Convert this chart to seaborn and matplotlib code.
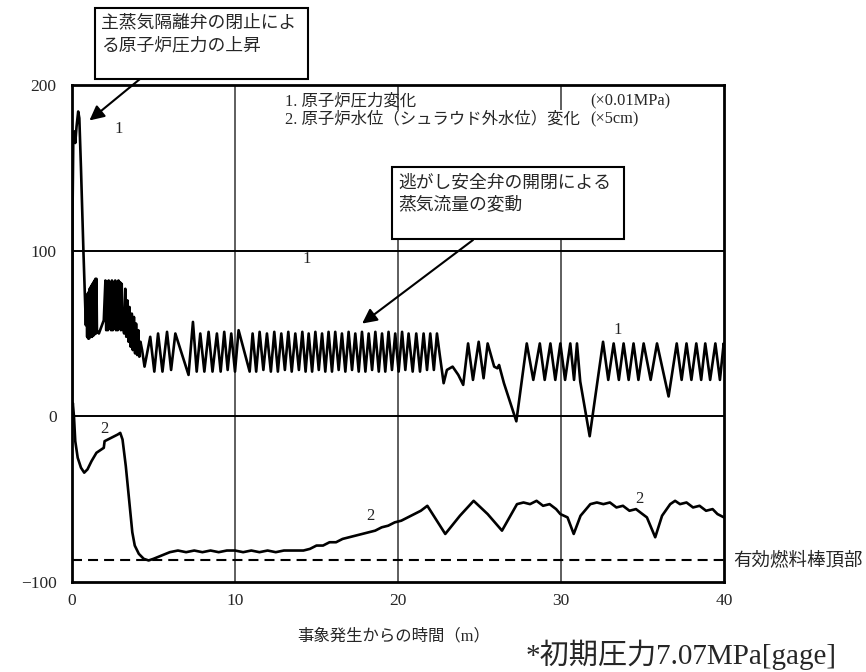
import numpy as np
import pandas as pd
import matplotlib
matplotlib.use("Agg")
import matplotlib.pyplot as plt
from matplotlib.patches import Rectangle
import seaborn as sns

# --- data ----------------------------------------------------------------
# 1. reactor pressure change (x0.01 MPa)
press_t = [0, 0.03, 0.08, 0.14, 0.2, 0.28, 0.38, 0.45, 0.55, 0.7, 0.85,
           0.9, 0.93, 0.96, 0.99, 1.02, 1.05, 1.08, 1.11, 1.14, 1.17, 1.2, 1.23,
           1.26, 1.29, 1.32, 1.35, 1.38, 1.41, 1.44, 1.47, 1.5, 1.53,
           1.65, 1.8, 1.95,
           2.05, 2.1, 2.15, 2.2, 2.25, 2.3, 2.35, 2.4, 2.45, 2.5, 2.55, 2.6,
           2.65, 2.7, 2.75, 2.8, 2.85, 2.9, 2.95, 3.0, 3.05,
           3.1, 3.2, 3.27, 3.33, 3.4, 3.47, 3.53, 3.6, 3.67, 3.73, 3.8, 3.87,
           3.93, 4.0, 4.07, 4.13, 4.2, 4.3,
           4.45, 4.8, 5.05, 5.28, 5.55, 5.83, 6.08, 6.34, 7.15, 7.42, 7.65,
           7.87, 8.12, 8.38, 8.62, 8.89, 9.12, 9.34, 9.55, 9.77, 10.0, 10.22,
           10.9, 11.08, 11.3, 11.51, 11.74, 11.96, 12.2, 12.41, 12.63, 12.84,
           13.06, 13.27, 13.48, 13.7, 13.92, 14.13, 14.33, 14.52, 14.73, 14.93,
           15.14, 15.34, 15.54, 15.74, 15.95, 16.15, 16.36, 16.56, 16.77, 16.97,
           17.18, 17.38, 17.59, 17.79, 18.0, 18.2, 18.41, 18.61, 18.82, 19.02,
           19.22, 19.42, 19.63, 19.83, 20.04, 20.25, 20.45, 20.65, 20.9, 21.12,
           21.35, 21.57, 21.78, 21.98, 22.2, 22.39,
           22.55, 22.8, 23.0, 23.35, 23.7, 24.0, 24.3, 24.6, 24.95, 25.25,
           25.5, 25.9, 26.1, 26.2, 26.5, 27.26, 27.9, 28.3, 28.7, 29.0, 29.35,
           29.65, 29.96, 30.25, 30.57, 30.8, 30.98, 31.18, 31.76, 32.58, 32.9,
           33.23, 33.55, 33.84, 34.15, 34.45, 34.75, 35.07, 35.5, 35.89, 36.6,
           37.1, 37.4, 37.7, 38.0, 38.3, 38.6, 38.85, 39.15, 39.47, 39.75,
           39.98, 40.0]
press_v = [0, 120, 168, 172, 165, 175, 184, 180, 150, 100, 55,
           72, 48, 74, 47, 75, 47, 77, 48, 78, 48, 79, 48,
           80, 49, 81, 49, 82, 50, 83, 50, 83, 52,
           50, 54, 58,
           82, 52, 81, 52, 82, 53, 81, 52, 82, 52, 81, 53,
           82, 52, 81, 52, 82, 53, 81, 52, 80,
           55, 50, 77, 48, 70, 45, 66, 42, 62, 40, 60, 38,
           56, 37, 52, 36, 45, 40,
           30, 48, 27, 50, 27, 51, 28, 50, 25, 57, 27,
           50, 27, 51, 27, 50, 27, 51, 28, 50, 27, 52,
           27, 50, 27, 51, 28, 50, 27, 51, 27, 50,
           28, 51, 27, 50, 28, 51, 27, 50, 27, 51,
           28, 50, 27, 51, 27, 51, 28, 50, 27, 51,
           28, 50, 27, 51, 27, 50, 28, 51, 27, 50,
           27, 51, 28, 50, 27, 51, 28, 50, 27, 50,
           27, 50, 28, 50, 28, 50,
           38, 20, 28, 30, 25, 19, 44, 22, 45, 23,
           44, 30, 29, 31, 20, -3, 44, 22, 44, 22, 44,
           22, 44, 22, 44, 22, 44, 21, -12, 45, 22,
           44, 22, 44, 22, 44, 22, 44, 22, 44, 12,
           44, 22, 44, 22, 44, 22, 44, 22, 44, 22,
           44, 40]

# 2. reactor water level change (shroud outside, x5 cm)
level_t = [0, 0.05, 0.12, 0.2, 0.35, 0.55, 0.75, 0.95, 1.2, 1.5, 1.8, 1.95,
           2.0, 2.2, 2.4, 2.6, 2.8, 2.96, 3.1, 3.3, 3.5, 3.7, 3.85, 4.1,
           4.4, 4.7, 5.0, 5.5, 6.0, 6.5, 7.0, 7.5, 8.0, 8.5, 9.0, 9.5, 10.0,
           10.5, 11.0, 11.5, 12.0, 12.5, 13.0, 13.5, 14.2, 14.6, 15.0, 15.4,
           15.8, 16.2, 16.6, 17.0, 17.4, 17.8, 18.2, 18.6, 19.0, 19.4, 19.8,
           20.2, 20.6, 21.0, 21.4, 21.8, 22.9, 23.8, 24.64, 25.5, 26.38, 27.3,
           27.7, 28.1, 28.5, 28.9, 29.3, 29.7, 29.96, 30.4, 30.78, 31.2, 31.8,
           32.2, 32.6, 33.0, 33.4, 33.8, 34.2, 34.6, 35.0, 35.27,
           35.78, 36.2, 36.7, 37.0, 37.3, 37.7, 38.1, 38.5, 38.9, 39.3, 39.6,
           39.9, 40.0]
level_v = [0, 8, 0, -15, -25, -31, -34, -32, -27, -22, -20, -19,
           -15, -14, -13, -12, -11, -10, -14, -30, -50, -70, -78, -83,
           -86, -87, -86, -84, -82, -81, -82, -81, -82, -81, -82, -81, -81,
           -82, -81, -82, -81, -82, -81, -81, -81, -80, -78, -78,
           -76, -76, -74, -73, -72, -71, -70, -69, -67, -66, -64,
           -63, -61, -59, -57, -54, -71, -60, -51, -59, -69, -53,
           -52, -53, -51, -54, -53, -56, -59, -61, -71, -60, -53,
           -52, -53, -52, -55, -54, -57, -56, -59, -61,
           -73, -60, -53, -51, -53, -52, -55, -54, -57, -56, -59,
           -60.5, -61]

fuel_top = -87
x_ticks = [0, 10, 20, 30, 40]
y_ticks = [-100, 0, 100, 200]

# curve labels "1" / "2"
lab_text = ["1", "1", "1", "2", "2", "2"]
lab_t = [2.84, 14.4, 33.45, 1.98, 18.3, 34.8]
lab_v = [173.6, 95, 52.3, -7.4, -60, -50]

# --- plotting -------------------------------------------------------------
sns.set_theme(style="white")
plt.rcParams['font.family'] = ['Liberation Serif', 'Noto Sans CJK JP']
plt.rcParams['axes.unicode_minus'] = True

W, H = 866, 672
fig = plt.figure(figsize=(W / 100, H / 100), dpi=100)
ax = fig.add_axes([72 / W, 1 - 582 / H, (724 - 72) / W, (582 - 85) / H])


def fx(px):
    return px / W


def fy(py):
    return 1 - py / H


df_p = pd.DataFrame({"t": press_t, "v": press_v})
df_l = pd.DataFrame({"t": level_t, "v": level_v})
sns.lineplot(ax=ax, data=df_p, x="t", y="v", sort=False, estimator=None,
             color="black", linewidth=1.9, zorder=4)
sns.lineplot(ax=ax, data=df_l, x="t", y="v", sort=False, estimator=None,
             color="black", linewidth=1.9, zorder=4)

ax.axhline(fuel_top, color="black", lw=1.5, ls=(0, (4.8, 2.9)), zorder=3)
for xv in [10, 20, 30]:
    ax.axvline(xv, color="#333333", lw=1.1, zorder=2)
for yv in [0, 100]:
    ax.axhline(yv, color="black", lw=1.4, zorder=2)

ax.set_xlim(0, 40)
ax.set_ylim(-100, 200)
ax.set_xticks(x_ticks)
ax.set_yticks(y_ticks)
ax.set_xlabel("")
ax.set_ylabel("")
ax.tick_params(length=0, labelsize=12.5)
ax.tick_params(axis="y", pad=11)
ax.tick_params(axis="x", pad=8)
for s in ax.spines.values():
    s.set_color("black")
    s.set_linewidth(2)

for txt, t, v in zip(lab_text, lab_t, lab_v):
    ax.text(t, v, txt, fontsize=12, ha="center", va="center", color="#222222")

# legend block (white background hides the grid lines)
fig.add_artist(Rectangle((fx(280), fy(166)), (690 - 280) / W, (166 - 110) / H,
                         transform=fig.transFigure, fc="white", ec="none", zorder=5))
fig.text(fx(285), fy(101), "1. 原子炉圧力変化", fontsize=11.8, va="center", zorder=6)
fig.text(fx(590), fy(101), "(×0.01MPa)", fontsize=11.8, va="center", zorder=6)
fig.text(fx(285), fy(119), "2. 原子炉水位（シュラウド外水位）変化", fontsize=11.8,
         va="center", zorder=6)
fig.text(fx(590), fy(119), "(×5cm)", fontsize=11.8, va="center", zorder=6)

# callout boxes
fig.add_artist(Rectangle((fx(95), fy(79)), (308 - 95) / W, (79 - 8) / H,
                         transform=fig.transFigure, fc="white", ec="black",
                         lw=1.5, zorder=5))
fig.text(fx(101), fy(23), "主蒸気隔離弁の閉止によ", fontsize=12.8, va="center", zorder=6)
fig.text(fx(101), fy(46), "る原子炉圧力の上昇", fontsize=12.8, va="center", zorder=6)

fig.add_artist(Rectangle((fx(392), fy(239)), (624 - 392) / W, (239 - 167) / H,
                         transform=fig.transFigure, fc="white", ec="black",
                         lw=1.5, zorder=5))
fig.text(fx(398), fy(183), "逃がし安全弁の開閉による", fontsize=12.8, va="center", zorder=6)
fig.text(fx(398), fy(205), "蒸気流量の変動", fontsize=12.8, va="center", zorder=6)

arrow = dict(arrowstyle="-|>", color="black", lw=1.5, mutation_scale=22,
             shrinkA=0, shrinkB=0)
ax.annotate("", xy=(1.07, 178.6), xycoords="data",
            xytext=(fx(140), fy(79)), textcoords="figure fraction",
            arrowprops=arrow, annotation_clip=False, zorder=7)
ax.annotate("", xy=(17.8, 56), xycoords="data",
            xytext=(fx(473), fy(240)), textcoords="figure fraction",
            arrowprops=arrow, annotation_clip=False, zorder=7)

fig.text(fx(733), fy(560), "有効燃料棒頂部", fontsize=13.3, va="center")
fig.text(fx(394), fy(636), "事象発生からの時間（m）", fontsize=11.8, ha="center",
         va="center")
fig.text(fx(526), fy(664), "*初期圧力7.07MPa[gage]", fontsize=21, va="baseline")

fig.savefig("out.png", dpi=100)
